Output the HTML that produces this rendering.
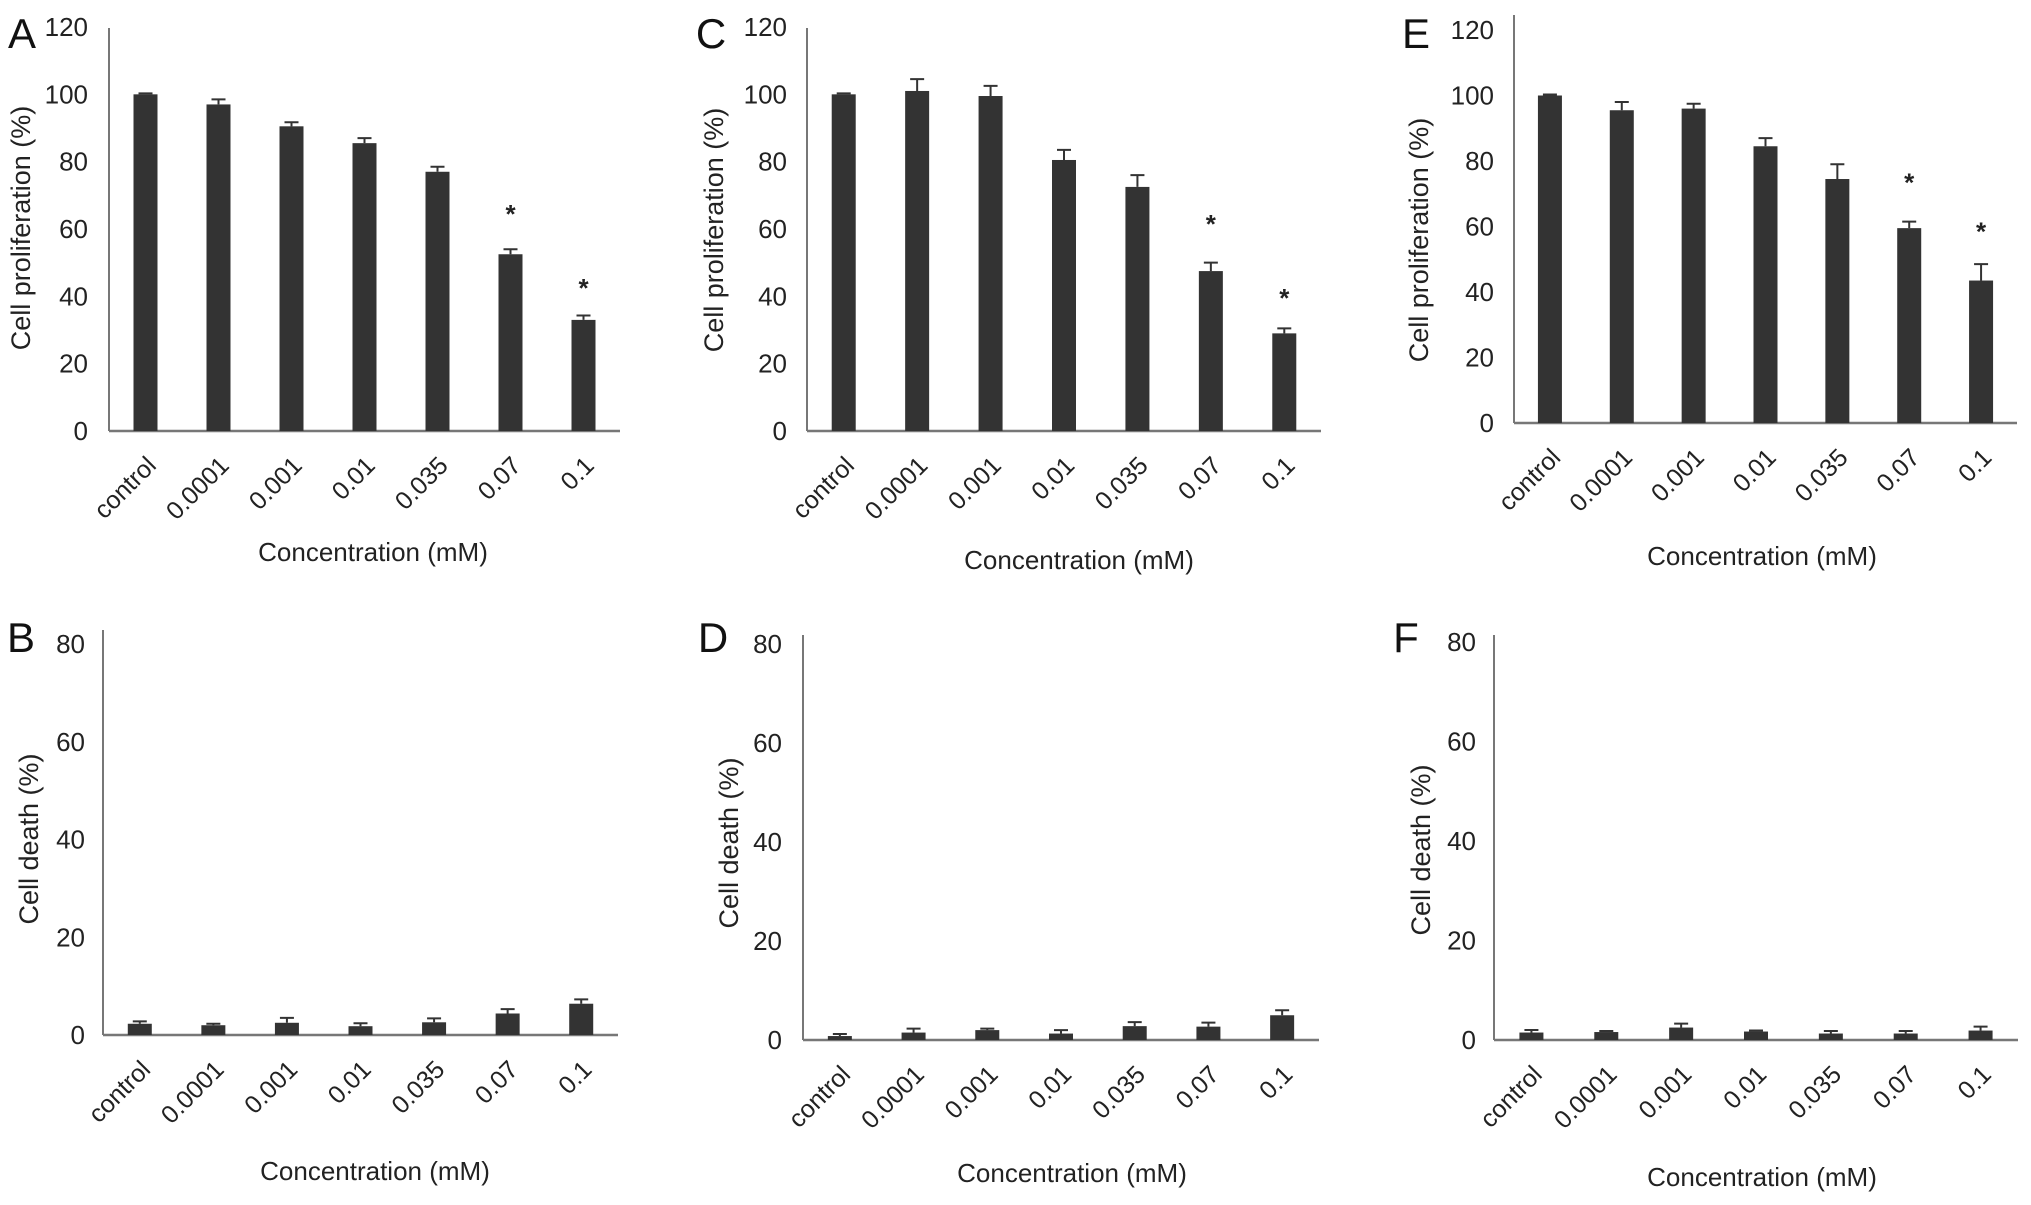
<!DOCTYPE html>
<html><head><meta charset="utf-8"><style>
html,body{margin:0;padding:0;background:#fff;}
svg{display:block;font-family:"Liberation Sans",Arial,sans-serif;}
</style></head><body>
<svg id="fig" width="2031" height="1205" viewBox="0 0 2031 1205" xmlns="http://www.w3.org/2000/svg"></svg>
<script>
const categories = ["control","0.0001","0.001","0.01","0.035","0.07","0.1"];
const valuesA = [100, 97, 90.5, 85.5, 77, 52.5, 33];
const errorsA = [0.3, 1.5, 1.2, 1.5, 1.5, 1.5, 1.3];
const starsA = [null, null, null, null, null, 66, 44];
const valuesC = [100, 101, 99.5, 80.5, 72.5, 47.5, 29];
const errorsC = [0.3, 3.5, 3, 3, 3.5, 2.5, 1.5];
const starsC = [null, null, null, null, null, 63, 41];
const valuesE = [100, 95.5, 96, 84.5, 74.5, 59.5, 43.5];
const errorsE = [0.3, 2.5, 1.5, 2.5, 4.5, 2, 5];
const starsE = [null, null, null, null, null, 75, 60];
const valuesB = [2.3, 2.0, 2.5, 1.8, 2.6, 4.4, 6.4];
const errorsB = [0.5, 0.3, 1.0, 0.6, 0.8, 0.9, 0.9];
const valuesD = [0.8, 1.5, 2.0, 1.3, 2.8, 2.7, 5.0];
const errorsD = [0.4, 0.8, 0.3, 0.7, 0.8, 0.8, 1.0];
const valuesF = [1.5, 1.6, 2.5, 1.7, 1.3, 1.3, 1.9];
const errorsF = [0.5, 0.2, 0.8, 0.2, 0.5, 0.5, 0.8];
const ticksProlif = [0,20,40,60,80,100,120];
const ticksDeath = [0,20,40,60,80];

const NS="http://www.w3.org/2000/svg";
const svg=document.getElementById('fig');
function mk(tag,attrs,parent){const e=document.createElementNS(NS,tag);for(const k in attrs)e.setAttribute(k,attrs[k]);(parent||svg).appendChild(e);return e;}

function panel(p){
  const g=mk('g',{});
  
  
  const yMax=p.ticks[p.ticks.length-1];
  const y=v=>p.y0-(v/yMax)*(p.y0-p.yTop);
  const step=(p.xEnd-p.ax)/categories.length;
  const x=i=>p.ax+step*(i+0.5);
  const L=mk('text',{x:p.lx,y:p.ly,'font-size':42,fill:'#111','text-anchor':'middle'},g);L.textContent=p.letter;
  
  
  const ya=mk('line',{x1:p.ax,y1:p.axTop,x2:p.ax,y2:p.y0,stroke:'#777','stroke-width':2},g);
  
  
  const xa=mk('line',{x1:p.ax,y1:p.y0,x2:p.xEnd,y2:p.y0,stroke:'#777','stroke-width':2.5},g);
  
  
  p.ticks.forEach(t=>{
    const tl=mk('text',{x:p.tickRight,y:y(t)+9,'font-size':26,fill:'#222','text-anchor':'end'},g);tl.textContent=t;
    
    
  });
  const yl=mk('text',{x:0,y:0,'font-size':27,fill:'#222','text-anchor':'middle',transform:`translate(${p.ylx},${p.yly}) rotate(-90)`},g);
  yl.textContent=p.ytitle;
  
  
  const xl=mk('text',{x:p.xlx,y:p.xly,'font-size':26,fill:'#222','text-anchor':'middle'},g);
  xl.textContent='Concentration (mM)';
  
  
  const bw=24;
  categories.forEach((c,i)=>{
    const cx=x(i),v=p.values[i],e=p.errors[i];
    const b=mk('rect',{x:cx-bw/2,y:y(v),width:bw,height:p.y0-y(v),fill:'#333'},g);
    
    
    const eb=mk('path',{d:`M${cx},${y(v)} V${y(v+e)} M${cx-7},${y(v+e)} H${cx+7}`,stroke:'#333','stroke-width':2,fill:'none'},g);
    
    
    const tx=cx+12,ty=p.y0+36;
    const cl=mk('text',{x:tx,y:ty,'font-size':25,fill:'#222','text-anchor':'end',transform:`rotate(-45 ${tx} ${ty})`},g);
    cl.textContent=c;
    
    
    if(p.stars && p.stars[i]!=null){
      const s=mk('text',{x:cx,y:y(p.stars[i])+14,'font-size':26,'font-weight':'bold',fill:'#222','text-anchor':'middle'},g);
      s.textContent='*';
      
      
    }
  });
}
const PT='Cell proliferation (%)', DT='Cell death (%)';
panel({letter:'A',lx:22,ly:48,ax:109,axTop:28,y0:431,yTop:27,xEnd:620,ticks:ticksProlif,values:valuesA,errors:errorsA,stars:starsA,tickRight:88,ylx:30,yly:228,ytitle:PT,xlx:373,xly:561});
panel({letter:'C',lx:711,ly:48,ax:807,axTop:28,y0:431,yTop:27,xEnd:1321,ticks:ticksProlif,values:valuesC,errors:errorsC,stars:starsC,tickRight:787,ylx:723,yly:230,ytitle:PT,xlx:1079,xly:569});
panel({letter:'E',lx:1416,ly:48,ax:1514,axTop:15,y0:423,yTop:30,xEnd:2017,ticks:ticksProlif,values:valuesE,errors:errorsE,stars:starsE,tickRight:1494,ylx:1428,yly:240,ytitle:PT,xlx:1762,xly:565});
panel({letter:'B',lx:21,ly:652,ax:103,axTop:630,y0:1035,yTop:644,xEnd:618,ticks:ticksDeath,values:valuesB,errors:errorsB,stars:null,tickRight:85,ylx:38,yly:839,ytitle:DT,xlx:375,xly:1180});
panel({letter:'D',lx:713,ly:652,ax:803,axTop:635,y0:1040,yTop:644,xEnd:1319,ticks:ticksDeath,values:valuesD,errors:errorsD,stars:null,tickRight:782,ylx:738,yly:843,ytitle:DT,xlx:1072,xly:1182});
panel({letter:'F',lx:1406,ly:652,ax:1494,axTop:635,y0:1040,yTop:642,xEnd:2018,ticks:ticksDeath,values:valuesF,errors:errorsF,stars:null,tickRight:1476,ylx:1430,yly:850,ytitle:DT,xlx:1762,xly:1186});
</script>
</body></html>
